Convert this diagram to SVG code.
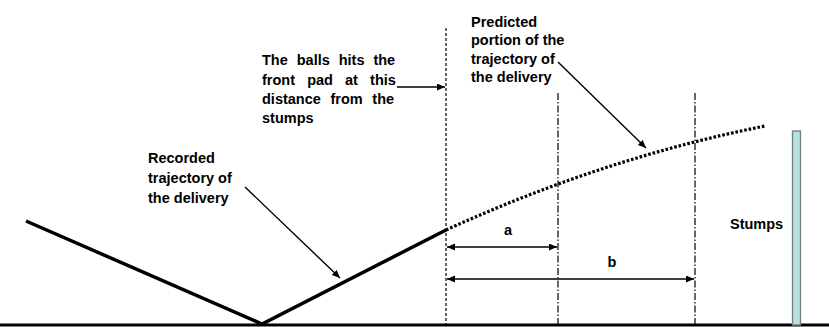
<svg xmlns="http://www.w3.org/2000/svg" width="829" height="327" viewBox="0 0 829 327">
<style>
.t{font-family:"Liberation Sans",Arial,sans-serif;font-weight:bold;font-size:14.5px;fill:#000}
.ln{stroke:#000;fill:none}
.thin{stroke:#000;stroke-width:1.4;fill:none}
</style>
<defs>
<marker id="ah" markerUnits="userSpaceOnUse" markerWidth="9" markerHeight="8" refX="8" refY="3.5" orient="auto-start-reverse">
<path d="M0,0 L8,3.5 L0,7 z" fill="#000"/>
</marker>
</defs>
<rect width="829" height="327" fill="#fff"/>
<g id="ground"><line class="ln" x1="0" y1="325" x2="829" y2="325" stroke-width="3"/></g>
<g id="guides">
<line class="ln" x1="446" y1="28" x2="446" y2="325" stroke-width="1.2" stroke-dasharray="3 2"/>
<line class="ln" x1="558" y1="93" x2="558" y2="325" stroke-width="1.2" stroke-dasharray="7 2 1.5 2"/>
<line class="ln" x1="695" y1="93" x2="695" y2="325" stroke-width="1.2" stroke-dasharray="7 2 1.5 2"/>
</g>
<g id="trajectory">
<polyline class="ln" points="26,221 262,324 446,230" stroke-width="3.5"/>
<path class="ln" d="M446,230 Q604,158 765,126" stroke-width="3.2" stroke-dasharray="2.6 1.9"/>
</g>
<g id="stumps">
<rect x="792.5" y="131" width="8" height="194" fill="#b7dfe2" stroke="#6f8183" stroke-width="1.3"/>
<text class="t" x="730" y="229">Stumps</text>
</g>
<g id="label-pad">
<text class="t" x="262" y="65" word-spacing="4.9">The balls hits the</text>
<text class="t" x="262" y="84.5" word-spacing="8.1">front pad at this</text>
<text class="t" x="262" y="104" word-spacing="5.6">distance from the</text>
<text class="t" x="262" y="123">stumps</text>
</g>
<g id="label-predicted">
<text class="t" x="471" y="26.5">Predicted</text>
<text class="t" x="471" y="45">portion of the</text>
<text class="t" x="471" y="63.5">trajectory of</text>
<text class="t" x="471" y="82">the delivery</text>
</g>
<g id="label-recorded">
<text class="t" x="148" y="163">Recorded</text>
<text class="t" x="148" y="183">trajectory of</text>
<text class="t" x="148" y="203">the delivery</text>
</g>
<g id="dim-labels">
<text class="t" x="508" y="235" text-anchor="middle">a</text>
<text class="t" x="612" y="267" text-anchor="middle">b</text>
</g>
<g id="connectors">
<line class="thin" x1="397" y1="87" x2="445" y2="87" marker-end="url(#ah)"/>
<line class="thin" x1="558" y1="62" x2="646" y2="148" marker-end="url(#ah)"/>
<line class="thin" x1="245" y1="187" x2="340" y2="278" marker-end="url(#ah)"/>
<line class="thin" x1="447" y1="247" x2="557" y2="247" marker-start="url(#ah)" marker-end="url(#ah)"/>
<line class="thin" x1="447" y1="279" x2="694" y2="279" marker-start="url(#ah)" marker-end="url(#ah)"/>
</g>
</svg>
